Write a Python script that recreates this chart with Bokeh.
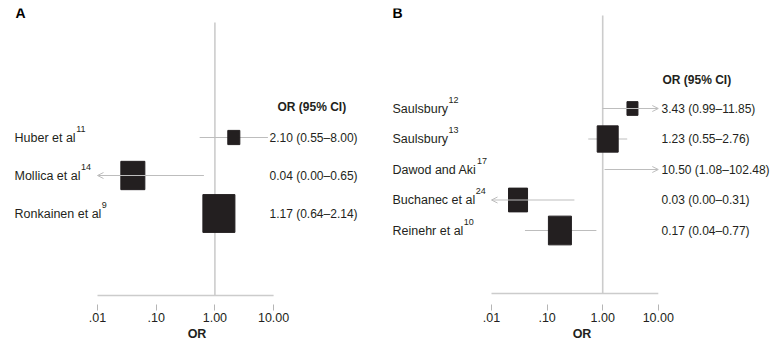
from bokeh.plotting import figure
from bokeh.layouts import row
from bokeh.models import (ColumnDataSource, Range1d, FixedTicker, Label, Arrow,
                          OpenHead, CustomJSTickFormatter)
from bokeh.embed import file_html
from bokeh.resources import INLINE

# ---------------- data ----------------
a_studies = ["Huber et al", "Mollica et al", "Ronkainen et al"]
a_refs = ["11", "14", "9"]
a_or = [2.10, 0.04, 1.17]
a_lo = [0.55, 0.00, 0.64]
a_hi = [8.00, 0.65, 2.14]
a_weight = [8.3, 33.0, 58.7]

b_studies = ["Saulsbury", "Saulsbury", "Dawod and Aki", "Buchanec et al", "Reinehr et al"]
b_refs = ["12", "13", "17", "24", "10"]
b_or = [3.43, 1.23, 10.50, 0.03, 0.17]
b_lo = [0.99, 0.55, 1.08, 0.00, 0.04]
b_hi = [11.85, 2.76, 102.48, 0.31, 0.77]
b_weight = [8.3, 30.4, 0.0, 24.9, 36.4]

tick_values = [0.01, 0.1, 1, 10]
tick_labels = [".01", ".10", "1.00", "10.00"]
header_text = "OR (95% CI)"
axis_title = "OR"

# ---------------- style ----------------
FONT = "Liberation Sans"
TXT = "#231f20"
BOX = "#231f20"
CI_COL = "#bdbdbd"
REF_COL = "#cccccc"
FS = "12.5px"
FS_VAL = "12px"
FRAME_H = 296

# Arial advance widths (1/1000 em) for superscript placement
AW = {" ": 278, "a": 556, "b": 556, "c": 500, "d": 556, "e": 556, "h": 556, "i": 222,
      "k": 500, "l": 222, "n": 556, "o": 556, "r": 333, "s": 500, "t": 278, "u": 556,
      "w": 722, "y": 500, "A": 667, "B": 667, "D": 722, "H": 722, "M": 833, "R": 722,
      "S": 667}


def text_width(s, px=12.5):
    return sum(AW.get(c, 556) for c in s) * px / 1000.0


def panel(letter, studies, refs, ors, los, his, weights, frame_w, x01_px, decade_px,
          row1_px, row_gap, size_k, aspect, val_x, head_x, head_px, name_x,
          axis_px, ref_top_px, border_left, border_right):
    def ydat(py):
        return 1 + (py - row1_px) / row_gap

    lo_lim, hi_lim = tick_values[0], tick_values[-1]
    x_start = 10 ** (-2 - x01_px / decade_px)
    x_end = 10 ** (-2 + (frame_w - x01_px) / decade_px)

    p = figure(frame_width=frame_w, frame_height=FRAME_H, x_axis_type="log",
               x_range=Range1d(x_start, x_end),
               y_range=Range1d(ydat(FRAME_H), ydat(0)),
               output_backend="svg", toolbar_location=None, y_axis_location=None,
               min_border_left=border_left, min_border_right=border_right,
               min_border_top=8, min_border_bottom=0, outline_line_color=None,
               background_fill_color="white", border_fill_color="white")
    p.grid.visible = False

    # reference line and axis line
    p.segment(x0=[1], y0=[ydat(ref_top_px)], x1=[1], y1=[ydat(axis_px)],
              line_color=REF_COL, line_width=1.6)
    p.segment(x0=[lo_lim], y0=[ydat(axis_px)], x1=[hi_lim], y1=[ydat(axis_px)],
              line_color=REF_COL, line_width=1.6)

    ys = [i + 1 for i in range(len(studies))]

    seg = dict(x0=[], x1=[], y=[])
    arr = dict(xs=[], xe=[], y=[])
    for o, lo, hi, y in zip(ors, los, his, ys):
        lc = max(lo, lo_lim)
        hc = min(hi, hi_lim)
        if lo < lo_lim:
            arr["xs"].append(hc); arr["xe"].append(lo_lim); arr["y"].append(y)
        elif hi > hi_lim:
            arr["xs"].append(lc); arr["xe"].append(hi_lim); arr["y"].append(y)
        else:
            seg["x0"].append(lc); seg["x1"].append(hc); seg["y"].append(y)
    if seg["y"]:
        p.segment(x0="x0", x1="x1", y0="y", y1="y", source=ColumnDataSource(seg),
                  line_color=CI_COL, line_width=1)
    if arr["y"]:
        p.add_layout(Arrow(end=OpenHead(size=6, line_color=CI_COL, line_width=1),
                           x_start="xs", y_start="y", x_end="xe", y_end="y",
                           source=ColumnDataSource(arr), line_color=CI_COL,
                           line_width=1))

    box = dict(x=[], y=[], w=[], h=[])
    for o, wt, y in zip(ors, weights, ys):
        if wt > 0:
            side = size_k * wt ** 0.5
            box["x"].append(o); box["y"].append(y)
            box["w"].append(side); box["h"].append(side * aspect)
    p.rect(x="x", y="y", width="w", height="h", width_units="screen",
           height_units="screen", source=ColumnDataSource(box),
           fill_color=BOX, line_color=BOX)

    for name, ref, o, lo, hi, y in zip(studies, refs, ors, los, his, ys):
        p.add_layout(Label(x=name_x, y=y, x_units="screen", text=name,
                           text_baseline="middle", text_font=FONT,
                           text_font_size=FS, text_color=TXT))
        p.add_layout(Label(x=name_x + text_width(name) + 0.5, y=y, x_units="screen",
                           y_offset=9, text=ref, text_baseline="middle",
                           text_font=FONT, text_font_size="9px", text_color=TXT))
        p.add_layout(Label(x=val_x, y=y, x_units="screen",
                           text=f"{o:.2f} ({lo:.2f}\u2013{hi:.2f})",
                           text_baseline="middle", text_font=FONT,
                           text_font_size=FS_VAL, text_color=TXT))

    p.add_layout(Label(x=head_x, y=ydat(head_px), x_units="screen", text=header_text,
                       text_baseline="middle", text_font=FONT, text_font_size=FS_VAL,
                       text_font_style="bold", text_color=TXT))
    p.add_layout(Label(x=7, y=ydat(4), x_units="screen", text=letter,
                       text_baseline="middle", text_font=FONT, text_font_size="14px",
                       text_font_style="bold", text_color="#000000"))

    ax = p.xaxis[0]
    ax.ticker = FixedTicker(ticks=tick_values)
    ax.formatter = CustomJSTickFormatter(
        args=dict(vals=tick_values, labs=tick_labels),
        code="const i = vals.findIndex(v => Math.abs(v - tick) < 1e-9); "
             "return i >= 0 ? labs[i] : '';")
    ax.axis_line_color = None
    ax.major_tick_line_color = "#b5b5b5"
    ax.major_tick_out = 6
    ax.major_tick_in = 0
    ax.minor_tick_line_color = None
    ax.major_label_standoff = 2
    ax.major_label_text_font = FONT
    ax.major_label_text_font_size = FS
    ax.major_label_text_color = TXT
    ax.axis_label = axis_title
    ax.axis_label_standoff = 2
    ax.axis_label_text_font = FONT
    ax.axis_label_text_font_size = FS
    ax.axis_label_text_font_style = "bold"
    ax.axis_label_text_color = TXT
    return p


pA = panel("A", a_studies, a_refs, a_or, a_lo, a_hi, a_weight,
           frame_w=377, x01_px=89, decade_px=58.7, row1_px=129, row_gap=38,
           size_k=4.18, aspect=1.18, val_x=261, head_x=269, head_px=98,
           name_x=6, axis_px=287, ref_top_px=14, border_left=8, border_right=0)
pB = panel("B", b_studies, b_refs, b_or, b_lo, b_hi, b_weight,
           frame_w=393, x01_px=106, decade_px=55.6, row1_px=100, row_gap=30.5,
           size_k=3.81, aspect=1.25, val_x=276, head_x=277, head_px=71,
           name_x=7, axis_px=285, ref_top_px=7, border_left=0, border_right=0)

layout = row(pA, pB)
open("out.html", "w").write(file_html(layout, INLINE))
